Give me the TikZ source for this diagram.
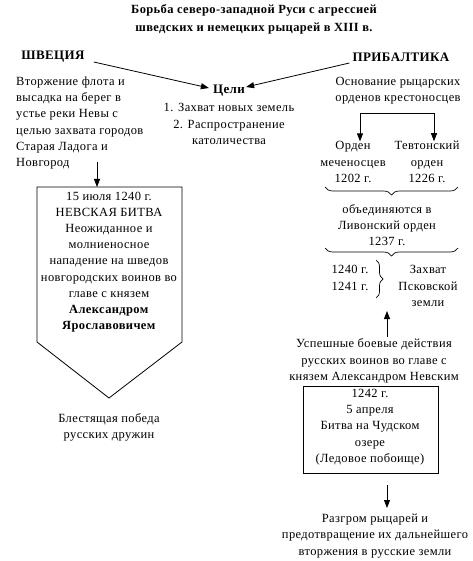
\documentclass[tikz,border=0pt]{standalone}
\usepackage{fontspec}
\setmainfont{Liberation Serif}
\newfontfamily\wideserif[LetterSpace=3]{Liberation Serif}
\usetikzlibrary{arrows.meta,decorations.pathreplacing}
\begin{document}
\begin{tikzpicture}[x=1pt,y=-1pt,
  txt/.style={font=\wideserif\fontsize{12.5}{16.2}\selectfont, inner sep=0pt, align=center},
  hdr/.style={txt, font=\wideserif\fontsize{13}{16.2}\selectfont\bfseries},
  ttl/.style={txt, font=\wideserif\fontsize{12.5}{18}\selectfont\bfseries},
  arr/.style={-{Triangle[width=6pt,length=8pt]}, line width=0.8pt},
  ln/.style={line width=0.8pt},
  brc/.style={decorate, decoration={brace, amplitude=8pt}, line width=0.7pt}]
\useasboundingbox[fill=white] (0,0) rectangle (472,561);

% title
\node[ttl] (title) at (254,19) {Борьба северо-западной Руси с агрессией\\шведских и немецких рыцарей в XIII в.};

% headers
\node[hdr] (shv) at (53,57) {ШВЕЦИЯ};
\node[hdr] (prib) at (401,57) {ПРИБАЛТИКА};
\node[hdr] (celi) at (229,91) {Цели};
\node[txt] (goals) at (229,124) {1. Захват новых земель\\2. Распространение\\католичества};

\draw[arr] ([shift={(9pt,-5pt)}]shv.east) -- ([shift={(-4pt,3pt)}]celi.west);
\draw[arr] ([shift={(-3pt,-6pt)}]prib.west) -- ([shift={(1pt,4pt)}]celi.east);

% left column
\node[txt, align=left, anchor=west] (swetext) at (16,123) {Вторжение флота и\\высадка на берег в\\устье реки Невы с\\целью захвата городов\\Старая Ладога и\\Новгород};
\coordinate (a1s) at (97,162);
\coordinate (a1e) at (97,187);
\draw[arr] (a1s) -- (a1e);

\coordinate (p1) at (37,187);
\coordinate (p2) at (182,187);
\coordinate (p3) at (182,342);
\coordinate (p4) at (109,398);
\coordinate (p5) at (37,342);
\draw[ln] (p1) -- (p2) -- (p3) -- (p4) -- (p5) -- cycle;
\node[txt] (nev) at (109,262) {15 июля 1240 г.\\НЕВСКАЯ БИТВА\\Неожиданное и\\молниеносное\\нападение на шведов\\новгородских воинов во\\главе с князем\\\textbf{Александром}\\\textbf{Ярославовичем}};

\node[txt] (pobeda) at (109,427) {Блестящая победа\\русских дружин};

% right column
\node[txt] (osn) at (398,91) {Основание рыцарских\\орденов крестоносцев};
\node[txt] (ordA) at (353,162) {Орден\\меченосцев\\1202 г.};
\node[txt] (ordB) at (427,162) {Тевтонский\\орден\\1226 г.};
\coordinate (b1) at (360,113);
\coordinate (b2) at (434,113);
\draw[ln] (b1) -- (b2);
\draw[arr] (b1) -- (b1 |- ordA.north);
\draw[arr] (b2) -- (b2 |- ordB.north);

\coordinate (br1a) at (325,187);
\coordinate (br1b) at (458,187);
\draw[brc, decoration={mirror}] (br1a) -- (br1b);
\node[txt] (liv) at (387,225) {объединяются в\\Ливонский орден\\1237 г.};
\coordinate (br2a) at (325,248);
\coordinate (br2b) at (458,248);
\draw[brc, decoration={mirror}] (br2a) -- (br2b);

\node[txt] (years) at (350,278) {1240 г.\\1241 г.};
\coordinate (br3a) at (376,260);
\coordinate (br3b) at (376,298);
\draw[brc, decoration={amplitude=7pt}] (br3a) -- (br3b);
\node[txt] (zahv) at (428,286) {Захват\\Псковской\\земли};

\coordinate (a2s) at (387,337);
\coordinate (a2e) at (387,311);
\draw[arr] (a2s) -- (a2e);

\node[txt] (usp) at (374,361) {Успешные боевые действия\\русских воинов во главе с\\князем Александром Невским};

\node[draw, line width=0.8pt, minimum width=135pt, minimum height=87pt, inner sep=0pt] (chud) at (370.5,429.5) {};
\node[txt] (chudtxt) at (370,427) {1242 г.\\5 апреля\\Битва на Чудском\\озере\\(Ледовое побоище)};

\coordinate (a3s) at (387,485);
\coordinate (a3e) at (387,508);
\draw[arr] (a3s) -- (a3e);

\node[txt] (razg) at (375,536) {Разгром рыцарей и\\предотвращение их дальнейшего\\вторжения в русские земли};
\end{tikzpicture}
\end{document}
